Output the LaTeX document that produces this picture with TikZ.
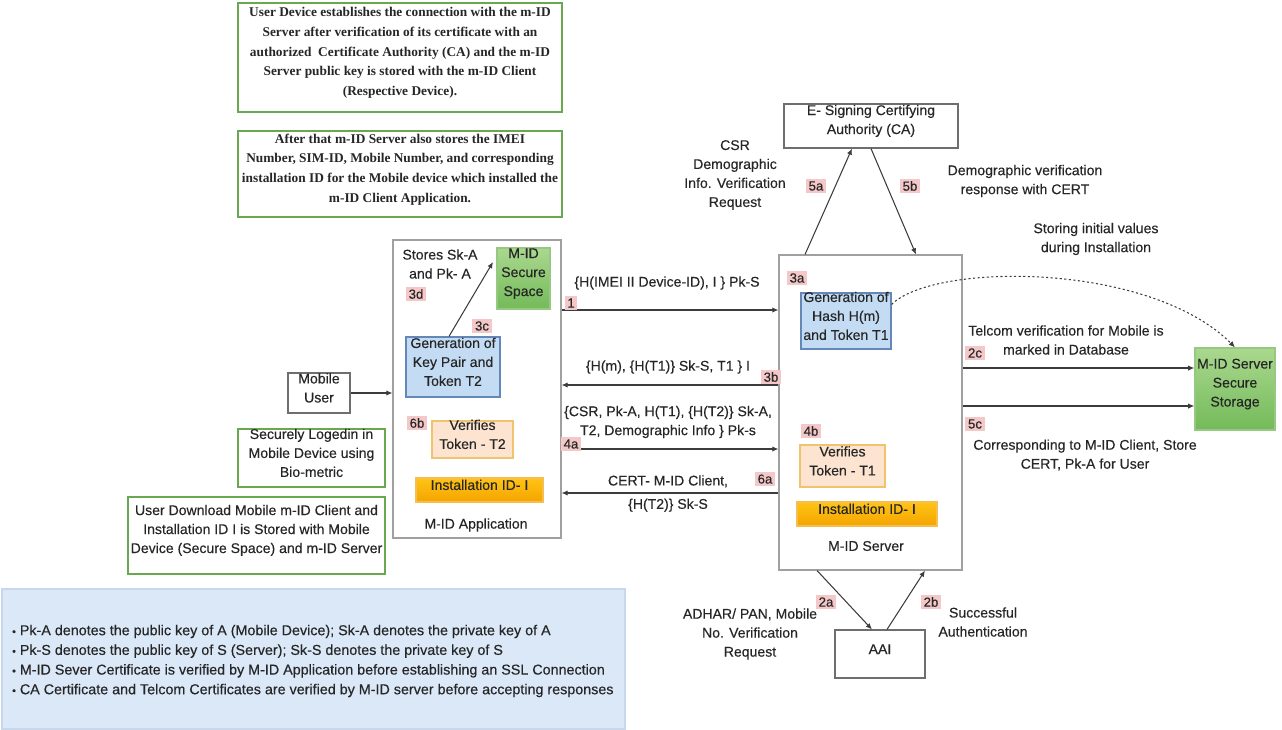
\documentclass[tikz,border=0pt]{standalone}
\usepackage{fontspec}
\setmainfont{Liberation Sans}[FakeBold=0.35]
\newfontfamily\notefont{Liberation Serif}
\usetikzlibrary{arrows.meta,fit,shadings}

\definecolor{noteGreen}{RGB}{106,168,79}
\definecolor{boxGray}{RGB}{160,160,160}
\definecolor{boxDark}{RGB}{110,110,110}
\definecolor{inkText}{RGB}{38,38,38}
\definecolor{tagPink}{RGB}{244,200,200}
\definecolor{keyBlue}{RGB}{196,220,243}
\definecolor{keyBlueLine}{RGB}{100,135,185}
\definecolor{tokFill}{RGB}{252,228,208}
\definecolor{tokLine}{RGB}{240,195,110}
\definecolor{idTop}{RGB}{255,196,20}
\definecolor{idBot}{RGB}{244,164,0}
\definecolor{idLine}{RGB}{245,190,80}
\definecolor{vaultTop}{RGB}{170,216,142}
\definecolor{vaultBot}{RGB}{116,186,90}
\definecolor{vaultLine}{RGB}{150,200,130}
\definecolor{legendFill}{RGB}{218,232,248}
\definecolor{legendLine}{RGB}{200,215,235}
\definecolor{flowInk}{RGB}{60,60,60}

\tikzset{
  every node/.style={text=inkText, font=\fontsize{8}{10.8}\selectfont, align=center},
  frame/.style={draw=boxGray, line width=0.6pt, inner sep=0pt},
  darkframe/.style={draw=boxDark, line width=0.6pt, inner sep=0pt},
  note/.style={draw=noteGreen, line width=1.1pt, inner sep=0pt},
  serifnote/.style={note, font=\notefont\bfseries\fontsize{7.6}{11.2}\selectfont},
  keybox/.style={draw=keyBlueLine, fill=keyBlue, line width=0.7pt, inner sep=0pt},
  tokbox/.style={draw=tokLine, fill=tokFill, line width=0.7pt, inner sep=0pt},
  idbox/.style={draw=idLine, top color=idTop, bottom color=idBot, line width=0.6pt, inner sep=0pt},
  vault/.style={draw=vaultLine, top color=vaultTop, bottom color=vaultBot, line width=0.7pt, inner sep=0pt},
  tag/.style={fill=tagPink, font=\fontsize{7.5}{8}\selectfont, inner xsep=1.6pt, inner ysep=1.4pt},
  flow/.style={draw=flowInk, line width=0.6pt, -{Latex[length=3.5pt,width=3pt]}},
  store/.style={draw=flowInk, line width=0.6pt, dash pattern=on 1.2pt off 1.4pt, -{Latex[length=3.5pt,width=3pt]}}
}

\begin{document}
\begin{tikzpicture}[x=0.02cm, y=-0.02cm]
\useasboundingbox (0,0) rectangle (1282,730);

% ---- explanatory notes (top left) ----
\node[serifnote, fit={(238,3) (562,112)}] (noteA)
  {User Device establishes the connection with the m-ID\\Server after verification of its certificate with an\\authorized \ Certificate Authority (CA) and the m-ID\\Server public key is stored with the m-ID Client\\(Respective Device).};
\node[serifnote, fit={(238,131) (562,217)}] (noteB)
  {After that m-ID Server also stores the IMEI\\Number, SIM-ID, Mobile Number, and corresponding\\installation ID for the Mobile device which installed the\\m-ID Client Application.};

% ---- user side ----
\node[darkframe, fit={(288,373) (350,413)}] (user) {Mobile\\User};
\node[note, fit={(238,429) (385,487)}] (login) {Securely Logedin in\\Mobile Device using\\Bio-metric};
\node[note, fit={(128,497) (385,574)}] (download) {User Download Mobile m-ID Client and\\Installation ID I is Stored with Mobile\\Device (Secure Space) and m-ID Server};

% ---- M-ID application ----
\node[frame, fit={(393,240) (561,538)}] (app) {};
\node (storeskeys) at (440,264) {Stores Sk-A\\and Pk- A};
\node[tag] (t3d) at (416,294) {3d};
\node[vault, fit={(497,248) (550,309)}] (secure) {M-ID\\Secure\\Space};
\node[keybox, fit={(406,337) (500,397)}] (keypair) {Generation of\\Key Pair and\\Token T2};
\node[tag] (t3c) at (482,326) {3c};
\node[tag] (t6b) at (417,423) {6b};
\node[tokbox, fit={(432,421) (513,458)}] (verT2) {Verifies\\Token - T2};
\node[idbox, fit={(416,478) (543,502)}] (idApp) {Installation ID- I};
\node (appname) at (476,525) {M-ID Application};
\coordinate (secureTip) at (493,262);
\draw[flow] ([xshift=-0.08cm]keypair.north) -- (secureTip);

\draw[flow] (user.east) -- (app.west |- user.east);

% ---- M-ID server ----
\node[frame, fit={(779,255) (962,570)}] (srv) {};
\node[tag] (t3a) at (797,278) {3a};
\node[keybox, fit={(801,293) (891,349)}] (hash) {Generation of\\Hash H(m)\\and Token T1};
\node[tag] (t4b) at (811,431) {4b};
\node[tokbox, fit={(800,445) (885,487)}] (verT1) {Verifies\\Token - T1};
\node[idbox, fit={(797,502) (937,526)}] (idSrv) {Installation ID- I};
\node (srvname) at (866,546) {M-ID Server};

% ---- certifying authority ----
\node[darkframe, fit={(784,104) (958,148)}] (ca) {E- Signing Certifying\\Authority (CA)};
\node (csr) at (735,175) {CSR\\Demographic\\Info. Verification\\Request};
\node (demresp) at (1025,181) {Demographic verification\\response with CERT};
\node[tag] (t5a) at (816,186) {5a};
\node[tag] (t5b) at (910,186) {5b};
\draw[flow] ([xshift=-1.31cm]srv.north) -- ([xshift=-0.38cm]ca.south);
\draw[flow] (ca.south) -- ([xshift=0.91cm]srv.north);

% ---- server storage ----
\node[vault, fit={(1195,348) (1275,430)}] (vaultS) {M-ID Server\\Secure\\Storage};
\node (storing) at (1096,239) {Storing initial values\\during Installation};
\draw[store] ([yshift=-0.24cm]hash.north east) .. controls (935,262) and (1150,262) .. (vaultS.north);
\node (telcom) at (1066,340) {Telcom verification for Mobile is\\marked in Database};
\node[tag] (t2c) at (975,353) {2c};
\node[tag] (t5c) at (975,424) {5c};
\node (corr) at (1085,455) {Corresponding to M-ID Client, Store\\CERT, Pk-A for User};
\coordinate (row2c) at (0,368);
\coordinate (row5c) at (0,406);
\draw[flow] (srv.east |- row2c) -- (vaultS.west |- row2c);
\draw[flow] (srv.east |- row5c) -- (vaultS.west |- row5c);

% ---- AAI ----
\node[darkframe, fit={(835,630) (925,678)}] (aai) {AAI};
\node (adhar) at (750,634) {ADHAR/ PAN, Mobile\\No. Verification\\Request};
\node (succ) at (983,622) {Successful\\Authentication};
\node[tag] (t2a) at (826,602) {2a};
\node[tag] (t2b) at (931,602) {2b};
\draw[flow] ([xshift=-1.07cm]srv.south) -- ([xshift=-0.16cm]aai.north);
\draw[flow] ([xshift=0.14cm]aai.north) -- ([xshift=1.09cm]srv.south);

% ---- messages between application and server ----
\coordinate (row1) at (0,310);
\coordinate (row3b) at (0,385);
\coordinate (row4a) at (0,449);
\coordinate (row6a) at (0,493);
\draw[flow] (app.east |- row1) -- (srv.west |- row1);
\draw[flow] (srv.west |- row3b) -- (app.east |- row3b);
\draw[flow] (app.east |- row4a) -- (srv.west |- row4a);
\draw[flow] (srv.west |- row6a) -- (app.east |- row6a);
\node (m1) at (667,283) {\{H(IMEI II Device-ID), I \} Pk-S};
\node[tag] (t1) at (571,303) {1};
\node (m3b) at (668,367) {\{H(m), \{H(T1)\} Sk-S, T1 \} I};
\node[tag] (t3b) at (771,377) {3b};
\node (m4a) at (668,422) {\{CSR, Pk-A, H(T1), \{H(T2)\} Sk-A,\\T2, Demographic Info \} Pk-s};
\node[tag] (t4a) at (571,444) {4a};
\node (m6a) at (668,493.5) {CERT- M-ID Client,\\[2.5pt]\{H(T2)\} Sk-S};
\node[tag] (t6a) at (765,479) {6a};

% ---- legend ----
\node[draw=legendLine, fill=legendFill, line width=0.6pt, inner sep=0pt, fit={(2,589) (625,729)}] (legend) {};
\node[anchor=west, align=left, font=\fontsize{8.15}{11.2}\selectfont] (legendtext) at (6,661)
  {{\fontsize{6}{6}\selectfont\textbullet}\ Pk-A denotes the public key of A (Mobile Device); Sk-A denotes the private key of A\\
   {\fontsize{6}{6}\selectfont\textbullet}\ Pk-S denotes the public key of S (Server); Sk-S denotes the private key of S\\
   {\fontsize{6}{6}\selectfont\textbullet}\ M-ID Sever Certificate is verified by M-ID Application before establishing an SSL Connection\\
   {\fontsize{6}{6}\selectfont\textbullet}\ CA Certificate and Telcom Certificates are verified by M-ID server before accepting responses};
\end{tikzpicture}
\end{document}
